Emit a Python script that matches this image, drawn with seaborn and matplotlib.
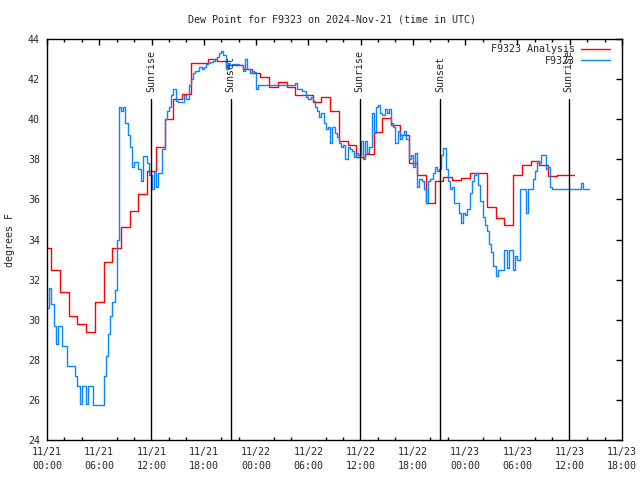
import numpy as np
import pandas as pd
import matplotlib
matplotlib.use('Agg')
import matplotlib.pyplot as plt
import seaborn as sns
from matplotlib.ticker import MultipleLocator

# hourly analysis values (hours since 11/21 00:00 UTC), each held +-30 min
red_vals = [33.6, 32.5, 31.4, 30.2, 29.8, 29.4, 30.9, 32.9, 33.6, 34.6,
            35.4, 36.25, 37.4, 38.6, 40.0, 41.0, 41.25, 42.8, 42.8, 43.0,
            42.9, 42.7, 42.7, 42.5, 42.3, 42.1, 41.6, 41.87, 41.6, 41.2,
            41.2, 40.87, 41.1, 40.4, 38.9, 38.7, 38.1, 38.25, 39.35, 40.04,
            39.7, 39.2, 37.8, 37.2, 35.8, 36.9, 37.1, 36.95, 37.05, 37.3,
            37.3, 35.6, 35.06, 34.7, 37.2, 37.7, 37.9, 37.7, 37.15, 37.2,
            37.2]

# station obs, quarter-hour values, one row per hour
blue_rows = [
    [30.6, 31.6, 30.8, 29.7], [28.8, 29.7, 29.7, 28.7], [28.7, 27.7, 27.7, 27.7],
    [27.7, 27.2, 26.7, 25.8], [26.7, 26.7, 25.8, 26.7], [26.7, 25.75, 25.75, 25.75],
    [25.75, 25.75, 27.2, 28.2], [29.3, 30.2, 30.9, 31.5], [34.0, 40.6, 40.4, 40.6],
    [39.8, 39.2, 38.6, 37.6], [37.85, 37.85, 37.5, 36.9], [38.15, 38.15, 37.8, 37.2],
    [36.5, 37.4, 36.6, 37.3], [37.3, 38.5, 40.0, 40.4], [40.6, 41.2, 41.5, 40.9],
    [40.87, 40.87, 40.87, 41.2], [41.0, 41.7, 42.0, 42.3], [42.4, 42.4, 42.6, 42.5],
    [42.6, 42.75, 42.8, 42.85], [42.9, 43.0, 43.1, 43.3], [43.4, 43.2, 42.5, 42.8],
    [42.7, 42.75, 42.75, 42.75], [42.7, 42.7, 42.4, 43.0], [42.5, 42.3, 42.4, 42.35],
    [41.5, 41.7, 41.7, 41.7], [41.7, 41.7, 41.7, 41.7], [41.7, 41.7, 41.7, 41.7],
    [41.7, 41.7, 41.7, 41.7], [41.7, 41.7, 41.8, 41.5], [41.5, 41.4, 41.4, 41.1],
    [41.0, 41.1, 40.9, 40.6], [40.4, 40.1, 40.3, 39.8], [39.5, 39.6, 38.8, 39.6],
    [39.3, 39.1, 38.8, 38.6], [38.7, 38.0, 38.6, 38.5], [38.4, 38.1, 38.3, 38.2],
    [38.9, 38.0, 38.9, 38.3], [38.6, 40.3, 39.3, 40.6], [40.7, 40.3, 40.2, 40.5],
    [40.3, 40.5, 39.8, 39.6], [38.8, 39.4, 39.0, 39.2], [39.4, 39.0, 38.0, 38.2],
    [37.6, 38.3, 36.6, 37.0], [36.9, 36.5, 35.8, 36.9], [37.0, 37.3, 37.6, 37.4],
    [37.5, 38.2, 38.55, 37.5], [36.9, 36.5, 36.6, 35.8], [35.8, 35.3, 34.8, 35.3],
    [35.2, 35.5, 36.3, 36.9], [37.2, 37.3, 36.7, 35.9], [35.1, 34.7, 34.4, 33.8],
    [33.4, 32.7, 32.2, 32.5], [32.5, 32.5, 33.5, 32.6], [33.5, 33.5, 32.5, 33.2],
    [33.0, 36.5, 36.5, 36.5], [35.3, 36.5, 36.5, 37.0], [37.4, 37.9, 37.8, 38.2],
    [38.2, 37.5, 37.6, 36.6], [36.5, 36.5, 36.5, 36.5], [36.5, 36.5, 36.5, 36.5],
    [36.5, 36.5, 36.5, 36.5], [36.5, 36.8, 36.5, 36.5], [36.5],
]

sun_hours = [11.95, 21.1, 35.9, 45.1, 59.9]
sun_labels = ['Sunrise', 'Sunset', 'Sunrise', 'Sunset', 'Sunrise']

xtick_labels = ['11/21\n00:00', '11/21\n06:00', '11/21\n12:00', '11/21\n18:00',
                '11/22\n00:00', '11/22\n06:00', '11/22\n12:00', '11/22\n18:00',
                '11/23\n00:00', '11/23\n06:00', '11/23\n12:00', '11/23\n18:00']

red_t = np.r_[0, np.arange(len(red_vals)) + 0.5]
red = pd.DataFrame({'t': red_t, 'v': red_vals + [red_vals[-1]]})
blue_vals = [v for row in blue_rows for v in row]
blue = pd.DataFrame({'t': np.arange(len(blue_vals) + 1) * 0.25,
                     'v': blue_vals + [blue_vals[-1]]})

sns.set_theme(style='white')
plt.rcParams['font.family'] = ['DejaVu Sans Mono']
plt.rcParams['font.size'] = 7.2

fig = plt.figure(figsize=(6.4, 4.8), dpi=100)
ax = fig.add_axes([47/640, 40/480, 575/640, 401/480])

sns.lineplot(data=red, x='t', y='v', drawstyle='steps-post', color='#ff0000',
             lw=1, ax=ax, label='F9323 Analysis', estimator=None)
sns.lineplot(data=blue, x='t', y='v', drawstyle='steps-post', color='#0a84ff',
             lw=1, ax=ax, label='F9323', estimator=None)

for h, lab in zip(sun_hours, sun_labels):
    ax.axvline(h, ymin=0, ymax=0.85, color='black', lw=1)
    ax.text(h, 41.35, lab, rotation=90, ha='center', va='bottom', fontsize=7.2)

ax.set_xlim(0, 66)
ax.set_ylim(24, 44)
ax.set_xticks(np.arange(0, 67, 6))
ax.set_xticklabels(xtick_labels, linespacing=1.45)
ax.xaxis.set_minor_locator(MultipleLocator(2))
ax.set_yticks(np.arange(24, 45, 2))
ax.tick_params(which='major', direction='in', top=True, right=True, length=4,
               width=1, color='black', labelsize=7.2, pad=5)
ax.tick_params(which='minor', direction='in', top=True, bottom=True, length=2,
               width=1, color='black')
for s in ax.spines.values():
    s.set_color('black')
    s.set_linewidth(1)
ax.set_xlabel('')
ax.set_ylabel('')

leg = ax.legend(loc='upper right', bbox_to_anchor=(1 - 5/575, 1 + 2/401),
                frameon=False, markerfirst=False, handlelength=2.9,
                fontsize=7.2, borderaxespad=0.3, labelspacing=0.15,
                handletextpad=0.6)
for t in leg.get_texts():
    t.set_ha('right')

fig.text(332/640, 1 - 19/480, 'Dew Point for F9323 on 2024-Nov-21 (time in UTC)',
         ha='center', va='center', fontsize=7.2)
fig.text(10/640, 1 - 240/480, 'degrees F', rotation=90, ha='center', va='center',
         fontsize=7.2)

fig.savefig('out.png', dpi=100)
